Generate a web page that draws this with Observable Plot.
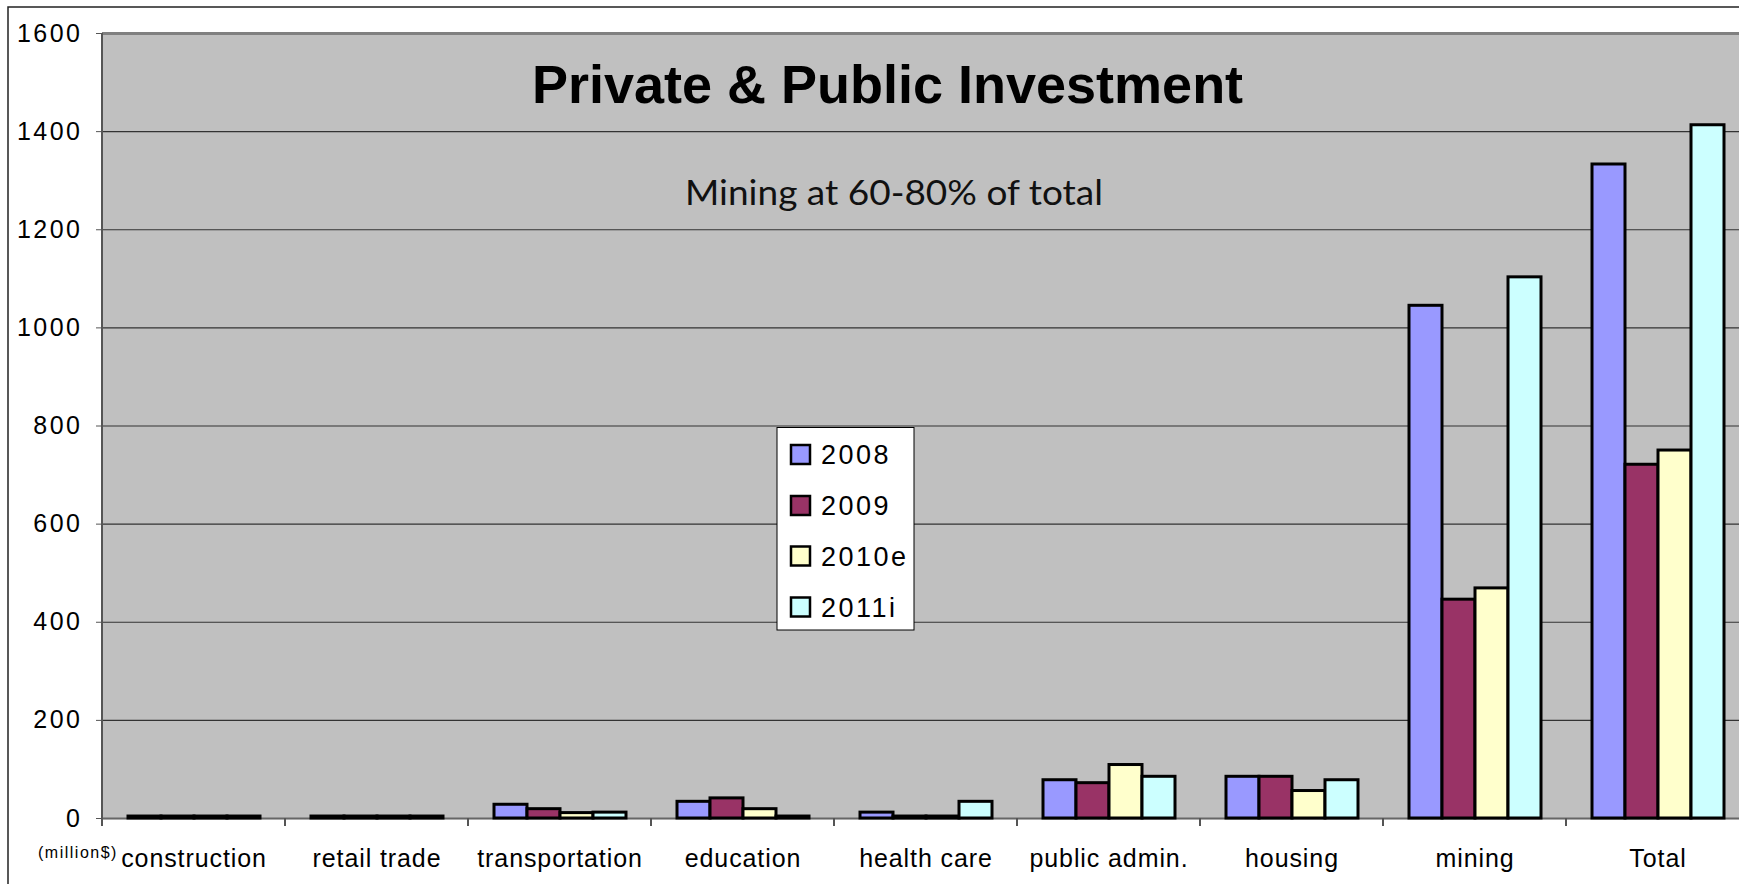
<!DOCTYPE html>
<html><head><meta charset="utf-8">
<script src="https://cdn.jsdelivr.net/npm/d3@7"></script>
<script src="https://cdn.jsdelivr.net/npm/@observablehq/plot@0.6"></script>
<style>
html,body{margin:0;padding:0;overflow:hidden;background:#fff}
#wrap{position:relative;width:1739px;height:884px;overflow:hidden}
#wrap svg{position:absolute;left:0;top:0}
g[aria-label="y-axis tick label"]{letter-spacing:2.5px}
g[aria-label="fx-axis tick label"]{letter-spacing:0.9px}
</style></head><body><div id="wrap"></div>
<script>
const categories = ["construction","retail trade","transportation","education","health care","public admin.","housing","mining","Total"];
const series = ["2008","2009","2010e","2011i"];
const colors = ["#9999ff","#993366","#ffffcc","#ccffff"];
const values2008  = [4, 4, 28, 34, 12, 78, 85, 1045, 1333];
const values2009  = [4, 4, 19, 41, 4, 72, 85, 446, 721];
const values2010e = [4, 4, 11, 19, 4, 109, 56, 469, 750];
const values2011i = [4, 4, 12, 4, 34, 85, 78, 1103, 1413];
const yTicks = [0, 200, 400, 600, 800, 1000, 1200, 1400, 1600];
const titleText = "Private & Public Investment";
const subtitleText = "Mining at 60-80% of total";
const unitText = "(million$)";

const seriesValues = [values2008, values2009, values2010e, values2011i];
const rows = [];
categories.forEach((c, i) => series.forEach((s, j) => rows.push({category: c, series: s, value: seriesValues[j][i]})));

const chart = Plot.plot({
  width: 1739, height: 884,
  marginLeft: 102, marginRight: -10, marginTop: 33, marginBottom: 66,
  style: {background: "transparent", fontFamily: "'Liberation Sans', Arial, sans-serif", color: "black"},
  fx: {domain: categories, padding: 0, label: null},
  x: {domain: series, paddingInner: 0, paddingOuter: 0.7, axis: null},
  y: {domain: [0, 1600], axis: null, label: null},
  color: {domain: series, range: colors},
  marks: [
    Plot.frame({fill: "#c0c0c0", stroke: "#c0c0c0", strokeWidth: 1.5}),
    Plot.ruleY(yTicks.filter(t => t > 0 && t < 1600), {stroke: "#333", strokeWidth: 1.2}),
    Plot.ruleY([1600], {stroke: "#808080", strokeWidth: 3}),
    Plot.ruleY([0], {stroke: "#666", strokeWidth: 2}),
    Plot.barY(rows, {fx: "category", x: "series", y: "value", fill: "series", stroke: "black", strokeWidth: 3}),
    Plot.axisY({ticks: yTicks, tickFormat: d => String(d), tickSize: 6, tickPadding: 14, fontSize: 25, stroke: "#555", fill: "black", label: null}),
    Plot.axisFx({anchor: "bottom", tickSize: 0, tickPadding: 31, fontSize: 25, fill: "black", label: null})
  ]
});
document.getElementById("wrap").appendChild(chart);

// axis line and category boundary ticks, from Plot's own scales
const fxS = chart.scale("fx"), yS = chart.scale("y");
const svg = d3.select(chart);
const g = svg.append("g").attr("stroke", "#555").attr("stroke-width", 2);
const x0 = fxS.apply(categories[0]);
g.append("line").attr("x1", x0).attr("x2", x0).attr("y1", yS.apply(1600)).attr("y2", yS.apply(0) + 8);
categories.forEach(c => {
  const x = fxS.apply(c);
  g.append("line").attr("x1", x).attr("x2", x).attr("y1", yS.apply(0)).attr("y2", yS.apply(0) + 8);
});

// overlay: outer border, title, subtitle, unit, legend
const ov = d3.select("#wrap").append("svg").attr("width", 1739).attr("height", 884)
  .style("font-family", "'Liberation Sans', Arial, sans-serif");
ov.append("path").attr("d", "M8,2000V7H2000").attr("fill", "none").attr("stroke", "#222").attr("stroke-width", 1.5);
ov.append("text").attr("x", 887.5).attr("y", 103).attr("text-anchor", "middle")
  .attr("font-size", 54).attr("font-weight", "bold").attr("fill", "black").text(titleText);
ov.append("text").attr("x", 894).attr("y", 205).attr("text-anchor", "middle")
  .attr("font-family", "Lato, 'Open Sans', sans-serif").attr("font-size", 34)
  .attr("textLength", 418).attr("lengthAdjust", "spacingAndGlyphs").attr("fill", "#111").text(subtitleText);
ov.append("text").attr("x", 38).attr("y", 858).attr("font-size", 16).attr("letter-spacing", 1.5).attr("fill", "black").text(unitText);

const lg = ov.append("g");
lg.append("rect").attr("x", 777).attr("y", 427.5).attr("width", 137).attr("height", 202.5)
  .attr("fill", "white").attr("stroke", "black").attr("stroke-width", 1);
const rowCenters = [454.5, 505.5, 556, 607];
series.forEach((s, i) => {
  const cy = rowCenters[i];
  lg.append("rect").attr("x", 791).attr("y", cy - 9.5).attr("width", 19).attr("height", 19)
    .attr("fill", colors[i]).attr("stroke", "black").attr("stroke-width", 2.5);
  lg.append("text").attr("x", 821).attr("y", cy + 9.5).attr("font-size", 27).attr("letter-spacing", 2.5)
    .attr("fill", "black").text(s);
});
</script></body></html>
